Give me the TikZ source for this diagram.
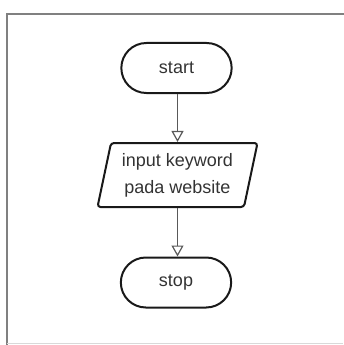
\documentclass[tikz,border=0pt]{standalone}
\usepackage{fontspec}
\setmainfont{Liberation Sans}
\usetikzlibrary{shapes.misc,shapes.geometric,arrows.meta}
\tikzset{
  term/.style={rounded rectangle, draw=black!90, line width=2pt, minimum width=117pt, minimum height=50pt, font=\fontsize{18}{20}\selectfont, text=black!80},
  iobox/.style={trapezium, trapezium left angle=75, trapezium right angle=105, trapezium stretches body, draw=black!90, line width=2pt, rounded corners=3pt, minimum width=160pt, minimum height=64pt, align=center, font=\fontsize{18}{27}\selectfont, text=black!80},
  flow/.style={draw=black!65, line width=1.2pt, -{Triangle[open, width=12pt, length=11pt, line width=1.2pt]}},
  frame/.style={draw=black!50, line width=2pt}
}
\begin{document}
\begin{tikzpicture}[x=1pt,y=-1pt]
\useasboundingbox (0,0) rectangle (343,345);
\draw[frame] (7,345) -- (7,14) -- (345,14);
\draw[draw=black!15, line width=1pt] (7,343.5) -- (343,343.5);
\node[term] (start) at (176.5,68) {start};
\node[iobox] (io) at (177.5,175) {input keyword\\pada website};
\node[term] (stop) at (176,282.5) {stop};
\draw[flow] (start.south -| io.north) -- (io.north);
\draw[flow] (io.south) -- (stop.north -| io.south);
\end{tikzpicture}
\end{document}
